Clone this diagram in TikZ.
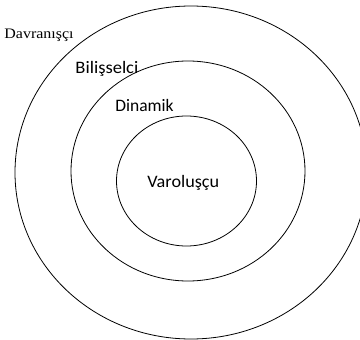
\documentclass[tikz,border=0pt]{standalone}
\usepackage{fontspec}
\setmainfont{Liberation Serif}
\newfontfamily\labelfont{Carlito}
\usepackage{tikz}
\usetikzlibrary{positioning}

\begin{document}
\begin{tikzpicture}[x=1pt, y=-1pt, line width=0.8pt,
    ring/.style={draw=black},
    lbl/.style={inner sep=0pt, anchor=base west, font=\labelfont\fontsize{17.5}{17.5}\selectfont}]
  % frame of the picture
  \useasboundingbox (0,0) rectangle (360,340);
  \clip (0,0) rectangle (360,340);

  % Rings (outer to inner)
  \draw[ring] (191,172.5) ellipse [x radius=176, y radius=166.5];
  \draw[ring] (188,171) ellipse [x radius=117, y radius=110];
  \draw[ring] (186.5,181) ellipse [x radius=70, y radius=65];

  % Ring labels
  \node[lbl, font=\fontsize{14.5}{14.5}\selectfont, xscale=1.1] (davr) at (4,38) {Davranışçı};
  \node[lbl, xscale=1.06] (bili) at (75,74) {Bilişselci};
  \node[lbl] (dina) at (115,112) {Dinamik};
  \node[lbl, xscale=1.04] (varo) at (147,188) {Varoluşçu};
\end{tikzpicture}
\end{document}
